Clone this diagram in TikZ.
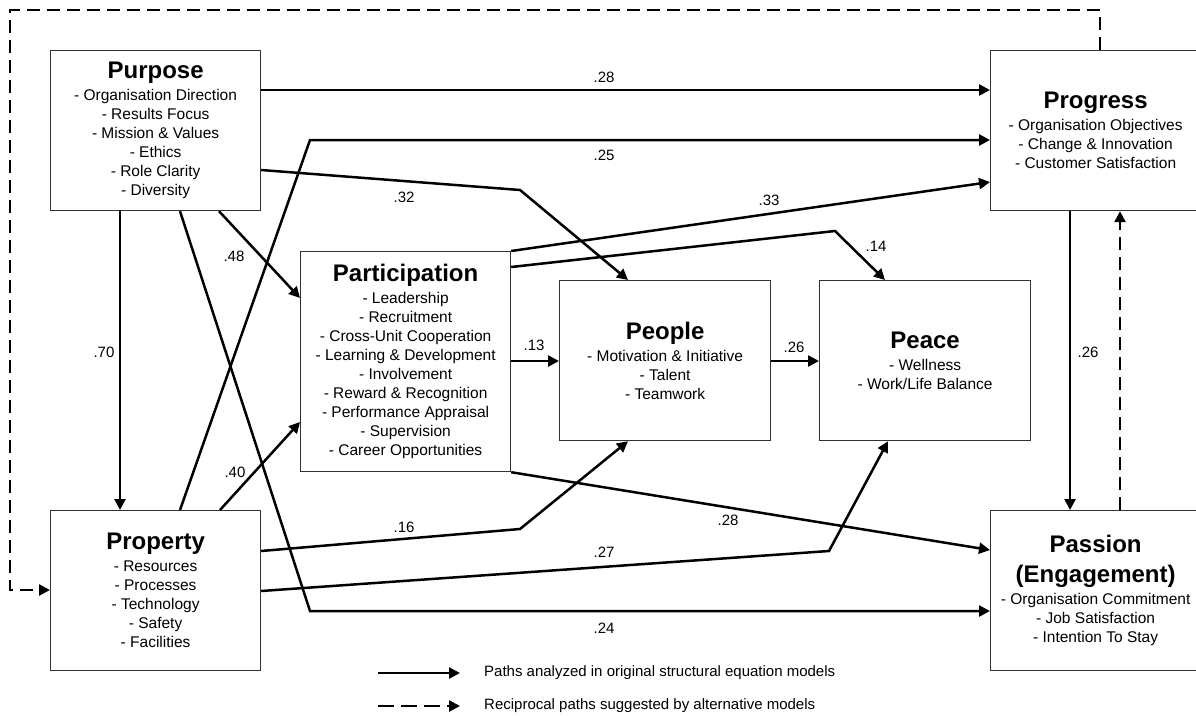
\documentclass[tikz,border=0pt]{standalone}
\usepackage{fontspec}
\setmainfont{Liberation Sans}
\usetikzlibrary{arrows.meta}
\newcommand\boxtitle[1]{{\fontsize{24}{24}\selectfont\bfseries #1}}
\begin{document}
\begin{tikzpicture}[x=1pt,y=-1pt,
  box/.style={draw=black!80, line width=1.2pt, anchor=north west, inner sep=0pt,
    align=center, font=\fontsize{15.5}{19}\selectfont},
  sem/.style={line width=2.5pt, -{Triangle[length=11pt,width=11pt]}},
  recip/.style={sem, dash pattern=on 13pt off 7pt},
  lbl/.style={font=\fontsize{15}{18}\selectfont, inner sep=0pt}]
\useasboundingbox (0,0) rectangle (1196,715);

% boxes
\node[box, minimum width=210pt, minimum height=160pt] (purpose) at (50,50)
  {\boxtitle{Purpose}\\[3pt] - Organisation Direction\\ - Results Focus\\ - Mission \& Values\\ - Ethics\\ - Role Clarity\\ - Diversity};
\node[box, minimum width=210pt, minimum height=160pt] (property) at (50,510)
  {\boxtitle{Property}\\[3pt] - Resources\\ - Processes\\ - Technology\\ - Safety\\ - Facilities};
\node[box, minimum width=210pt, minimum height=220pt] (participation) at (300,251)
  {\boxtitle{Participation}\\[3pt] - Leadership\\ - Recruitment\\ - Cross-Unit Cooperation\\ - Learning \& Development\\ - Involvement\\ - Reward \& Recognition\\ - Performance Appraisal\\ - Supervision\\ - Career Opportunities};
\node[box, minimum width=211pt, minimum height=160pt] (people) at (559,280)
  {\boxtitle{People}\\[3pt] - Motivation \& Initiative\\ - Talent\\ - Teamwork};
\node[box, minimum width=211pt, minimum height=160pt] (peace) at (819,280)
  {\boxtitle{Peace}\\[3pt] - Wellness\\ - Work/Life Balance};
\node[box, minimum width=210pt, minimum height=160pt] (progress) at (990,50)
  {\boxtitle{Progress}\\[3pt] - Organisation Objectives\\ - Change \& Innovation\\ - Customer Satisfaction};
\node[box, minimum width=210pt, minimum height=160pt] (passion) at (990,510)
  {\boxtitle{Passion}\\[11pt]\boxtitle{(Engagement)}\\[3pt] - Organisation Commitment\\ - Job Satisfaction\\ - Intention To Stay};

% paths
\draw[sem] (purpose.east |- 0,90) -- (progress.west |- 0,90);
\draw[sem] (property.north -| 180,0) -- (310,140) -- (progress.west |- 0,140);
\draw[sem] (purpose.east |- 0,170) -- (520,190) -- (people.north -| 628,0);
\draw[sem] (purpose.south -| 219,0) -- (participation.west |- 0,298);
\draw[sem] (purpose.south -| 120,0) -- (property.north -| 120,0);
\draw[sem] (purpose.south -| 180,0) -- (310,611) -- (passion.west |- 0,611);
\draw[sem] (property.north -| 220,0) -- (participation.west |- 0,422);
\draw[sem] (participation.north east) -- (progress.west |- 0,182);
\draw[sem] (participation.east |- 0,267) -- (835,231) -- (peace.north -| 885,0);
\draw[sem] (participation.east |- 0,361) -- (people.west |- 0,361);
\draw[sem] (participation.south east) -- (passion.west |- 0,550);
\draw[sem] (property.east |- 0,551) -- (520,529) -- (people.south -| 628,0);
\draw[sem] (property.east |- 0,591) -- (829,551) -- (peace.south -| 888,0);
\draw[sem] (people.east |- 0,361) -- (peace.west |- 0,361);
\draw[sem] (progress.south -| 1070,0) -- (passion.north -| 1070,0);
\draw[recip] (passion.north -| 1120,0) -- (progress.south -| 1120,0);
\draw[recip] (progress.north -| 1100,0) -- (1100,10) -- (10,10) -- (10,590) -- (property.west |- 0,590);

% labels
\node[lbl] (l1) at (604,77) {.28};
\node[lbl] (l2) at (604,155) {.25};
\node[lbl] (l3) at (404,197) {.32};
\node[lbl] (l4) at (234,256) {.48};
\node[lbl] (l5) at (104,352) {.70};
\node[lbl] (l6) at (235,472) {.40};
\node[lbl] (l7) at (769,200) {.33};
\node[lbl] (l8) at (876,246) {.14};
\node[lbl] (l9) at (534,345) {.13};
\node[lbl] (l10) at (794,347) {.26};
\node[lbl] (l11) at (1088,352) {.26};
\node[lbl] (l12) at (404,527) {.16};
\node[lbl] (l13) at (604,552) {.27};
\node[lbl] (l14) at (728,520) {.28};
\node[lbl] (l15) at (604,628) {.24};

% legend
\coordinate (ls1) at (378,673);
\coordinate (le1) at (460,673);
\coordinate (ls2) at (378,706);
\coordinate (le2) at (460,706);
\draw[sem] (ls1) -- (le1);
\draw[sem, dash pattern=on 16pt off 7pt] (ls2) -- (le2);
\node[lbl, anchor=west] (lt1) at (484,673) {Paths analyzed in original structural equation models};
\node[lbl, anchor=west] (lt2) at (484,706) {Reciprocal paths suggested by alternative models};
\end{tikzpicture}
\end{document}
